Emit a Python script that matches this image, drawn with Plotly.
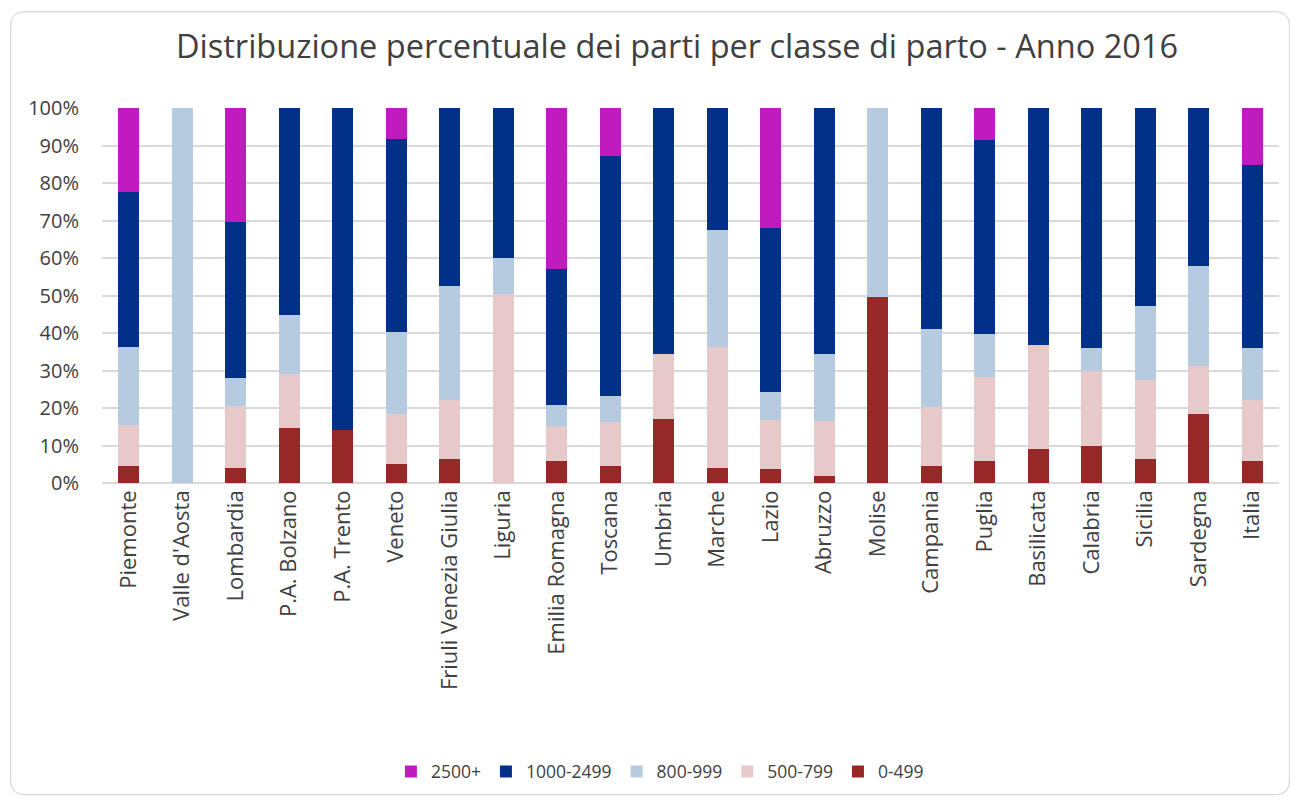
import plotly.graph_objects as go

regions = ["Piemonte", "Valle d'Aosta", "Lombardia", "P.A. Bolzano", "P.A. Trento", "Veneto",
           "Friuli Venezia Giulia", "Liguria", "Emilia Romagna", "Toscana", "Umbria", "Marche",
           "Lazio", "Abruzzo", "Molise", "Campania", "Puglia", "Basilicata", "Calabria",
           "Sicilia", "Sardegna", "Italia"]

v_0_499 = [4.5, 0, 4.1, 14.7, 14.1, 5.0, 6.4, 0, 5.8, 4.6, 17.2, 4.1, 3.8, 2.0, 49.6, 4.6, 5.8, 9.1, 9.8, 6.5, 18.4, 5.8]
v_500_799 = [10.9, 0, 16.5, 14.4, 0, 13.3, 15.7, 50.4, 9.5, 11.8, 17.3, 32.1, 13.1, 14.6, 0, 15.8, 22.4, 27.7, 20.0, 21.1, 12.7, 16.3]
v_800_999 = [21.0, 100, 7.5, 15.6, 0, 21.9, 30.5, 9.5, 5.6, 6.9, 0, 31.2, 7.3, 17.9, 50.4, 20.6, 11.6, 0, 6.2, 19.5, 26.8, 13.9]
v_1000_2499 = [41.2, 0, 41.4, 55.3, 85.9, 51.5, 47.4, 40.1, 36.2, 63.8, 65.5, 32.6, 43.8, 65.5, 0, 59.0, 51.6, 63.2, 64.0, 52.9, 42.1, 48.9]
v_2500 = [22.4, 0, 30.5, 0, 0, 8.3, 0, 0, 42.9, 12.9, 0, 0, 32.0, 0, 0, 0, 8.6, 0, 0, 0, 0, 15.1]

series = [
    ("0-499", v_0_499, "#962828"),
    ("500-799", v_500_799, "#E8C9C9"),
    ("800-999", v_800_999, "#B7CBE0"),
    ("1000-2499", v_1000_2499, "#003087"),
    ("2500+", v_2500, "#BF1BBF"),
]

fig = go.Figure()
for name, vals, col in series:
    fig.add_trace(go.Bar(
        x=regions, y=[v / 100 for v in vals], name=name,
        marker=dict(color=col, line=dict(width=0)),
        hovertemplate="%{x}: %{y:.1%}<extra>" + name + "</extra>",
    ))

FONT = "Open Sans, Liberation Sans, sans-serif"
L, R, T, B = 93.5, 26.5, 100.3, 327.7
PW, PH = 1298 - L - R, 803 - T - B
fig.update_layout(
    width=1298, height=803, autosize=False,
    barmode="stack", bargap=0.6,
    plot_bgcolor="white", paper_bgcolor="white",
    margin=dict(l=L, r=R, t=T, b=B),
    title=dict(text="Distribuzione percentuale dei parti per classe di parto - Anno 2016",
               x=0.5154, xanchor="center", y=1 - 39 / 803, yanchor="middle",
               font=dict(family=FONT, size=32.5, color="#404040")),
    font=dict(family=FONT, color="#404040"),
    xaxis=dict(tickangle=-90, tickfont=dict(size=22, color="#404040"),
               showgrid=False, showline=False, ticks="", ticklabelstandoff=2),
    yaxis=dict(range=[0, 1], tickformat=".0%", dtick=0.1, tickfont=dict(size=20, color="#404040"),
               showgrid=True, gridcolor="#D9D9D9", gridwidth=1.5, zeroline=True,
               zerolinecolor="#D9D9D9", zerolinewidth=1.5, showline=False, ticks="",
               ticklabelstandoff=22),
    legend=dict(orientation="h", x=0.474, xanchor="center", y=(T + PH - 764) / PH, yanchor="middle",
                traceorder="reversed", font=dict(size=17.5, color="#404040"),
                itemwidth=30),
    showlegend=True,
)

# rounded chart-area border
x0, x1 = (2 - L) / PW, (1282 - L) / PW
y1, y0 = (T + PH - 4) / PH, (T + PH - 787) / PH
rx, ry = 15 / PW, 15 / PH
path = (f"M {x0+rx},{y1} L {x1-rx},{y1} Q {x1},{y1} {x1},{y1-ry} L {x1},{y0+ry} "
        f"Q {x1},{y0} {x1-rx},{y0} L {x0+rx},{y0} Q {x0},{y0} {x0},{y0+ry} "
        f"L {x0},{y1-ry} Q {x0},{y1} {x0+rx},{y1} Z")
fig.add_shape(type="path", xref="paper", yref="paper", path=path,
              line=dict(color="#D9D9D9", width=1.2), layer="below")

fig.write_html("out.html")
